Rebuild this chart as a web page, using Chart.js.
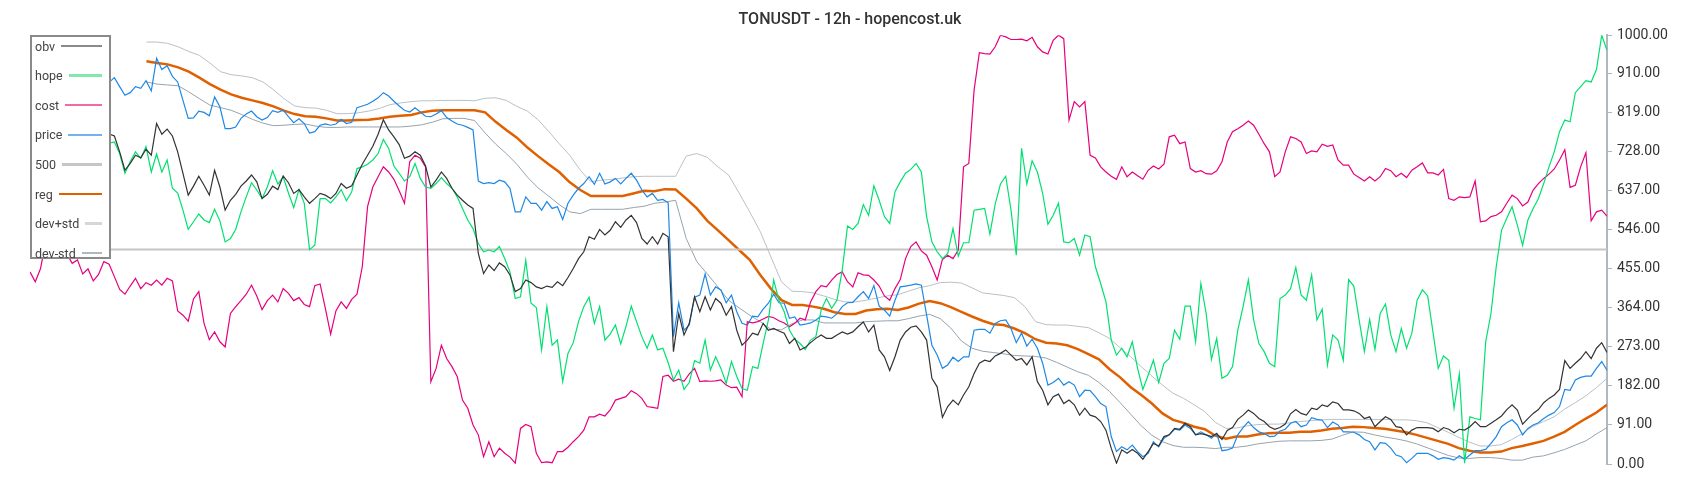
<!DOCTYPE html>
<html>
<head>
<meta charset="utf-8">
<script src="https://cdn.jsdelivr.net/npm/chart.js@4.4.1/dist/chart.umd.min.js"></script>
<style>
  body { margin: 0; background: #fff; }
  #wrap { position: relative; width: 1700px; height: 500px; }
  #legend {
    position: absolute; left: 30px; top: 35px; width: 77px; height: 220px;
    background: #fff; border: 2px solid #8a8a8a;
    font-family: Roboto, sans-serif; font-size: 12.5px; color: #444;
  }
  #legend .item { position: absolute; left: 3px; right: 7px; height: 16px; display: flex; align-items: center; }
  #legend .item span.sw { flex: 1; margin-left: 6px; height: 2.5px; }
</style>
</head>
<body>
<div id="wrap">
  <canvas id="chart"></canvas>
  <div id="legend"></div>
</div>
<script>
// 300 candles of 12h; the smoothed bands are read every second candle
const candles = Array.from({length: 300}, (_, i) => i);
const bandCandles = Array.from({length: 150}, (_, i) => i * 299 / 149);
const yTicks = [0, 91, 182, 273, 364, 455, 546, 637, 728, 819, 910, 1000];

const obv = [770,760,790,780,765,775,800,790,770,760,780,795,785,770,760,770,
  765,728,685,701,720,714,734,720,794,769,781,765,728,678,627,648,671,650,627,685,
  646,592,615,629,648,660,674,658,619,629,648,640,672,656,631,640,623,608,619,631,
  627,619,631,654,643,649,674,699,720,741,769,803,779,763,745,713,718,728,
  720,695,646,662,681,666,643,627,615,604,596,491,444,464,451,469,460,441,402,409,
  429,423,413,409,415,412,425,416,435,456,479,495,530,524,547,534,545,565,552,569,
  580,563,526,513,530,513,538,530,262,351,301,328,390,355,390,359,386,375,
  347,367,312,277,289,305,301,328,312,316,310,305,281,293,266,272,283,293,
  301,293,293,301,308,303,308,320,331,308,324,266,250,218,250,289,308,319,322,308,289,
  200,180,109,134,149,138,161,180,211,235,242,239,252,258,266,254,242,246,231,250,
  192,172,138,157,163,141,149,138,114,130,114,110,99,79,37,2,33,25,34,25,
  11,29,48,42,64,68,83,81,95,87,68,71,68,64,71,
  57,78,85,104,114,126,118,106,99,87,81,85,93,117,127,118,114,130,127,138,
  134,145,141,126,126,124,118,106,110,87,99,110,104,87,85,68,79,85,85,85,
  83,75,85,81,73,81,79,87,99,87,87,95,103,112,127,138,126,93,106,118,
  127,143,153,161,174,241,223,235,246,262,246,270,283,260];

const hope = [790,800,780,770,790,775,760,770,780,765,755,770,760,750,745,748,
  751,724,678,705,728,713,740,681,723,681,709,643,632,592,547,565,583,569,563,594,
  567,518,526,547,588,623,656,639,619,646,684,653,670,632,598,640,608,500,510,619,
  619,609,623,640,614,635,689,693,699,709,724,757,736,695,678,660,670,701,
  666,646,643,654,668,654,643,623,596,569,549,514,495,499,495,507,479,448,386,390,
  475,375,365,266,367,277,289,192,258,283,332,367,389,328,367,289,303,324,280,321,
  368,332,297,270,301,266,270,236,196,219,174,190,241,235,289,219,250,223,
  188,239,204,176,172,227,223,281,336,429,382,355,312,291,281,267,289,297,
  359,386,363,382,452,555,547,561,605,580,649,615,577,561,635,658,678,687,701,681,577,
  518,495,479,491,549,485,516,516,592,594,596,536,606,653,671,592,487,736,653,707,
  681,631,559,580,608,518,516,526,487,534,530,460,421,378,289,254,270,250,285,223,
  174,207,242,190,235,246,312,291,368,368,285,421,351,244,293,
  200,207,227,312,367,429,336,281,262,235,227,386,394,409,458,394,382,441,336,361,
  231,301,289,242,430,415,336,262,337,267,351,373,301,262,316,270,305,382,406,392,
  308,223,252,242,130,210,2,110,106,103,285,351,460,545,573,600,557,510,569,596,
  619,654,693,728,775,802,798,866,880,894,891,920,1000,965];

const cost = [448,425,456,520,540,530,520,490,468,476,443,455,427,442,472,466,437,407,396,415,
  433,409,423,417,429,417,433,427,357,347,333,385,402,328,290,308,285,273,351,367,
  381,396,417,392,360,381,394,378,409,398,381,388,372,367,416,420,363,303,357,378,
  363,384,396,460,600,646,670,693,681,664,637,608,705,720,713,693,192,223,277,246,
  227,204,149,130,91,68,17,52,17,37,25,16,2,83,92,87,25,3,5,3,
  29,29,39,52,64,79,110,110,116,112,126,149,153,157,171,164,153,134,132,130,
  204,207,193,198,193,210,223,192,194,193,194,196,184,178,179,157,332,329,332,338,
  344,341,334,329,320,328,340,336,378,402,416,413,429,442,448,425,413,446,441,440,
  429,415,392,382,409,430,479,507,518,497,487,460,429,477,487,479,499,693,701,872,
  959,957,956,973,1000,996,990,990,991,987,995,973,961,956,988,1000,992,802,845,833,
  845,720,714,693,681,671,664,693,670,681,672,664,685,695,688,699,763,767,747,751,
  689,681,684,677,676,684,705,751,775,782,790,800,790,769,747,728,670,681,728,763,
  759,751,724,730,728,746,741,744,709,697,697,676,668,660,670,660,670,689,684,670,
  678,668,685,693,702,679,679,674,687,619,615,623,621,623,660,565,567,577,580,588,
  608,627,619,602,611,639,654,666,676,688,709,733,645,650,693,726,567,588,592,578];

const price = [895,910,880,900,920,895,905,925,900,880,870,890,905,895,880,890,
  901,880,860,866,880,876,894,870,946,920,929,904,891,848,806,807,823,820,812,856,
  833,782,782,786,806,816,823,810,802,808,824,820,825,810,796,805,794,772,775,790,
  793,790,793,804,794,797,831,835,839,846,854,866,858,846,835,825,821,831,
  821,811,810,816,824,808,800,793,790,785,779,660,654,656,654,662,658,643,588,588,
  623,608,608,592,612,596,600,570,608,627,643,654,670,652,678,653,658,666,653,666,
  678,662,639,623,631,615,617,609,297,376,312,324,389,394,443,394,413,406,
  376,394,355,328,324,345,343,361,375,396,376,375,340,343,324,326,329,336,
  345,343,340,350,367,376,377,390,402,386,416,368,359,345,382,413,415,417,420,417,347,
  277,254,223,231,249,239,250,250,312,314,314,305,328,334,336,316,283,305,275,291,
  270,235,184,190,200,184,192,184,157,172,171,157,141,134,64,29,40,33,44,29,
  17,25,52,40,60,68,81,79,91,83,68,75,68,60,71,
  31,33,37,68,85,99,85,75,71,64,65,77,81,95,99,87,91,108,104,102,
  85,98,91,75,75,74,68,57,52,33,50,48,37,21,17,3,13,25,25,25,
  19,11,15,13,9,19,11,21,31,31,34,48,64,87,96,103,91,68,83,91,
  96,106,114,120,134,174,172,196,202,205,205,223,239,219];

const level500 = candles.map(() => 500);

const reg = [null,null,null,null,null,null,null,null,null,null,null,939,935,932,925,915,901,886,873,862,
  854,848,842,834,824,816,811,810,806,801,801,802,803,806,810,812,814,820,824,825,
  825,825,825,820,798,779,761,738,718,699,681,657,639,625,625,625,625,631,637,636,
  641,640,619,596,567,545,522,499,476,441,409,382,371,371,367,362,354,350,350,358,
  361,362,359,365,374,380,375,366,355,344,334,326,324,316,305,291,283,281,277,268,
  256,244,221,202,179,161,141,118,103,96,87,81,66,59,64,64,69,72,73,73,
  75,75,78,82,84,87,86,84,82,78,74,68,61,54,47,37,31,27,27,29,
  37,42,48,54,64,75,91,106,120,138];

const devPlus = [null,null,null,null,null,null,null,null,null,null,null,984,984,981,973,962,953,935,915,908,
  905,901,891,873,852,835,831,830,825,817,817,819,823,829,838,842,845,847,847,848,
  848,848,847,853,854,848,834,823,803,776,747,720,685,658,662,664,667,670,671,671,
  671,671,718,724,715,693,674,632,588,542,483,425,403,402,399,392,384,378,378,382,
  387,392,395,403,411,416,423,424,422,411,399,396,393,388,367,332,325,324,324,321,
  318,306,293,271,250,227,205,184,165,153,138,122,97,83,84,89,92,93,93,96,
  99,101,103,104,104,104,104,104,104,103,103,101,96,85,74,62,51,42,42,45,
  57,71,88,99,110,128,143,159,178,200];

const devMinus = [null,null,null,null,null,null,null,null,null,null,null,891,886,884,882,868,852,837,831,825,
  815,804,795,789,790,792,793,788,785,785,786,786,786,786,786,786,788,791,797,805,
  806,806,801,772,746,724,699,669,644,625,605,588,584,594,594,594,594,598,601,608,
  611,615,526,472,443,413,382,364,347,332,314,313,327,336,336,329,329,329,329,332,
  333,334,334,339,345,349,339,317,287,270,263,260,257,253,252,251,247,237,226,215,
  207,190,169,143,116,89,67,52,43,39,39,38,36,39,39,42,47,50,53,54,
  54,54,55,58,67,75,74,68,63,59,54,47,38,29,20,14,13,15,15,13,
  9,9,16,19,26,34,44,54,70,85];

const series = [
  {label: 'obv', xs: candles, data: obv, color: '#333333', key: '#8a8a8a', width: 1.2},
  {label: 'hope', xs: candles, data: hope, color: '#00e070', key: '#7fe8aa', width: 1.2},
  {label: 'cost', xs: candles, data: cost, color: '#e6007e', key: '#f06aaa', width: 1.2},
  {label: 'price', xs: candles, data: price, color: '#1e88e5', key: '#72b2ee', width: 1.2},
  {label: '500', xs: candles, data: level500, color: '#c6c6c6', key: '#c6c6c6', width: 2},
  {label: 'reg', xs: bandCandles, data: reg, color: '#e06000', key: '#e06000', width: 2.5},
  {label: 'dev+std', xs: bandCandles, data: devPlus, color: '#b9c0c6', key: '#d3d7db', width: 1},
  {label: 'dev-std', xs: bandCandles, data: devMinus, color: '#97a3ac', key: '#aeb8c0', width: 1}
];

// legend box drawn as html over the chart area
const legend = document.getElementById('legend');
series.forEach((s, i) => {
  const row = document.createElement('div');
  row.className = 'item';
  row.style.top = (1 + i * 29.6) + 'px';
  row.innerHTML = '<span>' + s.label + '</span><span class="sw"></span>';
  row.querySelector('.sw').style.background = s.key;
  legend.appendChild(row);
});

new Chart(document.getElementById('chart'), {
  type: 'line',
  data: {
    datasets: series.map(s => ({
      label: s.label,
      data: s.data.map((y, k) => ({x: s.xs[k], y: y})),
      borderColor: s.color,
      borderWidth: s.width,
      pointRadius: 0,
      tension: 0,
      fill: false
    }))
  },
  options: {
    responsive: true,
    maintainAspectRatio: false,
    animation: false,
    layout: {padding: {left: 30, right: 30, top: 0, bottom: 36}},
    plugins: {
      legend: {display: false},
      tooltip: {enabled: false},
      title: {
        display: true,
        text: 'TONUSDT - 12h - hopencost.uk',
        color: '#333',
        font: {family: 'Roboto', size: 16, weight: '500'},
        padding: {top: 10, bottom: 6}
      }
    },
    scales: {
      x: {type: 'linear', display: false, min: 0, max: 299},
      y: {
        position: 'right',
        min: 0,
        max: 1000,
        afterBuildTicks: axis => { axis.ticks = yTicks.map(v => ({value: v})); },
        afterFit: axis => { axis.width = 63; },
        grid: {drawOnChartArea: false, drawTicks: true, tickLength: 5, color: '#b0b8bf'},
        border: {color: '#b0b8bf', width: 2},
        ticks: {
          padding: 5,
          color: '#333',
          font: {family: 'Roboto', size: 14},
          callback: v => Number(v).toFixed(2)
        }
      }
    }
  }
});
</script>
</body>
</html>
